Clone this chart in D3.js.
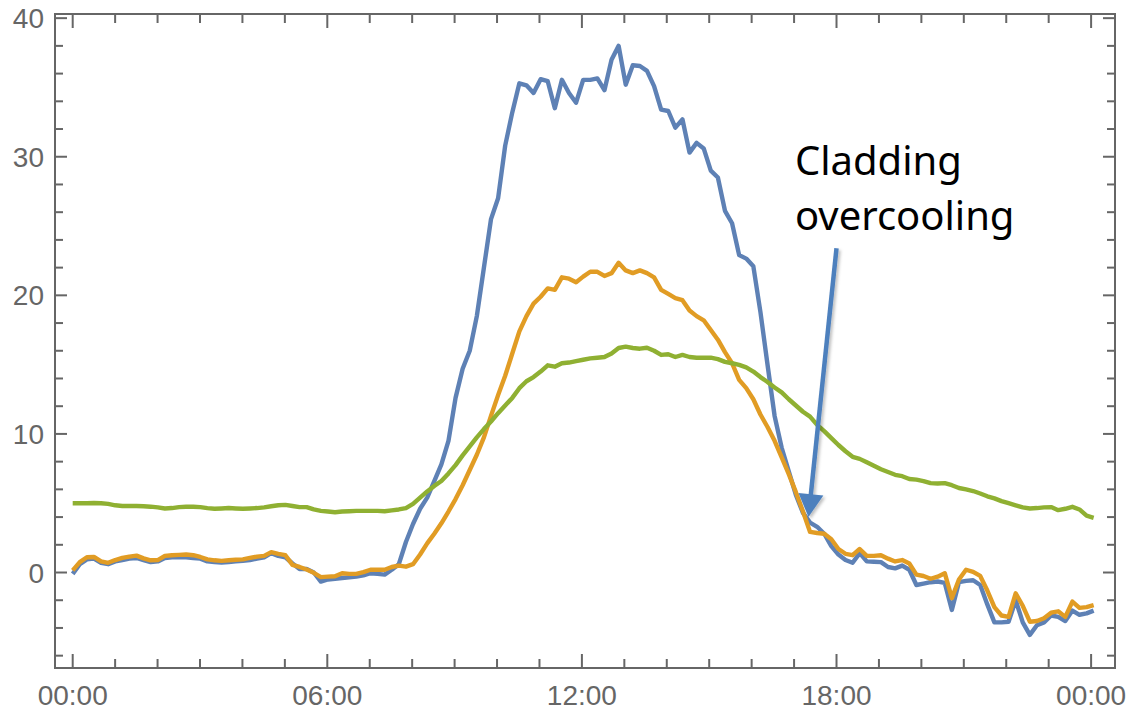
<!DOCTYPE html>
<html>
<head>
<meta charset="utf-8">
<script src="https://cdn.jsdelivr.net/npm/d3@7"></script>
<style>
  html, body { margin: 0; padding: 0; background: #fff; }
  svg { display: block; }
</style>
</head>
<body>
<div id="chart"></div>
<script>
// readings every ~10 min, from 00:00 to just past midnight
let sampleCount = 145;
let lastSampleHour = 24.06;

let blueValues = [
  -0.1, 0.6, 0.95, 1.0, 0.7, 0.6, 0.8, 0.9, 1.0, 1.05,
  0.9, 0.75, 0.8, 1.05, 1.1, 1.1, 1.1, 1.05, 1.0, 0.8,
  0.75, 0.72, 0.75, 0.8, 0.85, 0.9, 1.0, 1.1, 1.4, 1.2,
  1.1, 0.65, 0.25, 0.25, 0.0, -0.65, -0.5, -0.45, -0.4, -0.35,
  -0.3, -0.2, -0.05, -0.1, -0.15, 0.2, 0.6, 2.2, 3.5, 4.6,
  5.4, 6.6, 7.8, 9.5, 12.6, 14.7, 16.0, 18.5, 22.0, 25.5,
  27.0, 30.8, 33.2, 35.3, 35.15, 34.6, 35.6, 35.45, 33.5, 35.55,
  34.6, 33.9, 35.55, 35.55, 35.65, 34.8, 37.0, 38.0, 35.2, 36.6,
  36.55, 36.2, 35.1, 33.4, 33.3, 32.1, 32.7, 30.3, 31.0, 30.6,
  29.0, 28.5, 26.1, 25.2, 22.9, 22.65, 22.1, 18.8, 15.0, 11.3,
  9.0, 7.3, 5.6, 4.3, 3.6, 3.3, 2.8, 1.9, 1.3, 0.9,
  0.7, 1.4, 0.8, 0.78, 0.75, 0.4, 0.3, 0.5, 0.2, -0.9,
  -0.8, -0.7, -0.65, -0.75, -2.7, -0.7, -0.6, -0.56, -0.9, -2.3,
  -3.6, -3.6, -3.55, -2.0, -3.6, -4.5, -3.8, -3.6, -3.1, -3.2,
  -3.5, -2.75, -3.05, -2.95, -2.75
];

let orangeValues = [
  0.15, 0.75, 1.1, 1.12, 0.8, 0.7, 0.9, 1.05, 1.15, 1.22,
  1.02, 0.88, 0.9, 1.2, 1.25, 1.27, 1.3, 1.25, 1.12, 0.95,
  0.88, 0.84, 0.88, 0.92, 0.95, 1.05, 1.15, 1.2, 1.47, 1.35,
  1.25, 0.55, 0.4, 0.22, -0.02, -0.33, -0.3, -0.27, -0.05, -0.1,
  -0.1, 0.03, 0.2, 0.2, 0.2, 0.4, 0.5, 0.42, 0.6, 1.3,
  2.1, 2.8, 3.55, 4.4, 5.3, 6.3, 7.4, 8.5, 9.75, 11.3,
  12.8, 14.2, 15.8, 17.4, 18.5, 19.4, 19.9, 20.5, 20.4, 21.3,
  21.2, 20.95, 21.35, 21.7, 21.7, 21.4, 21.6, 22.35, 21.8, 21.6,
  21.8, 21.6, 21.3, 20.4, 20.1, 19.8, 19.65, 18.9, 18.5, 18.2,
  17.5, 16.8, 15.9, 15.1, 13.9, 13.3, 12.5, 11.4, 10.5, 9.5,
  8.3, 7.1, 5.8, 4.4, 2.93, 2.85, 2.8, 2.4, 1.7, 1.35,
  1.25, 1.7, 1.2, 1.2, 1.25, 1.0, 0.8, 0.9, 0.65, -0.15,
  -0.25, -0.45, -0.3, -0.05, -1.85, -0.5, 0.2, 0.05, -0.25, -1.3,
  -2.5, -3.1, -3.2, -1.5, -2.4, -3.55, -3.5, -3.3, -2.9, -2.8,
  -3.2, -2.1, -2.55, -2.5, -2.35
];

let greenValues = [
  5.0, 5.0, 5.0, 5.02, 5.0, 4.95, 4.85, 4.8, 4.8, 4.8,
  4.78, 4.75, 4.7, 4.62, 4.65, 4.72, 4.75, 4.75, 4.72, 4.65,
  4.6, 4.62, 4.65, 4.62, 4.6, 4.62, 4.65, 4.7, 4.78, 4.85,
  4.88, 4.8, 4.72, 4.72, 4.55, 4.45, 4.4, 4.35, 4.4, 4.42,
  4.45, 4.45, 4.45, 4.45, 4.42, 4.48, 4.55, 4.65, 4.95, 5.4,
  5.85, 6.25, 6.6, 7.15, 7.75, 8.45, 9.1, 9.75, 10.35, 10.9,
  11.5, 12.05, 12.6, 13.3, 13.8, 14.1, 14.5, 14.95, 14.85, 15.1,
  15.15, 15.25, 15.35, 15.45, 15.5, 15.55, 15.8, 16.2, 16.3, 16.2,
  16.15, 16.22, 16.0, 15.7, 15.75, 15.55, 15.7, 15.55, 15.5, 15.5,
  15.5, 15.4, 15.2, 15.1, 14.98, 14.8, 14.5, 14.1, 13.75, 13.35,
  13.0, 12.5, 12.05, 11.6, 11.25, 10.65, 10.2, 9.7, 9.2, 8.75,
  8.35, 8.2, 7.95, 7.7, 7.45, 7.25, 7.05, 6.95, 6.75, 6.7,
  6.6, 6.45, 6.42, 6.45, 6.3, 6.1, 6.0, 5.88, 5.7, 5.5,
  5.35, 5.15, 5.0, 4.85, 4.7, 4.62, 4.65, 4.7, 4.72, 4.5,
  4.6, 4.74, 4.55, 4.1, 3.95
];

let seriesColors = ['#5e81b5', '#e19c24', '#8fb032'];

let xTickHours = [0, 6, 12, 18, 24];
let yTickValues = [0, 10, 20, 30, 40];

// annotation arrow, in data units (hours, value)
let arrowFrom = [18.0, 23.4];
let arrowTo = [17.34, 4.0];
let noteLines = ['Cladding', 'overcooling'];
let noteAt = [17.02, 28.7];

let width = 1132;
let height = 712;
let frame = {left: 55, right: 1115, top: 14, bottom: 668};

let svg = d3.select('#chart').append('svg')
    .attr('width', width)
    .attr('height', height)
    .style('background-color', 'white');

let x = d3.scaleLinear().domain([-0.417, 24.563]).range([frame.left, frame.right]);
let y = d3.scaleLinear().domain([-6.89, 40.3]).range([frame.bottom, frame.top]);

let hours = d3.range(sampleCount).map((i) => i * lastSampleHour / (sampleCount - 1));

let frameColor = '#666666';

// frame ticks: major + minor, all four sides, pointing inward
let xMinor = d3.range(0, 25, 1).filter((h) => h % 6 !== 0);
let yMinor = d3.range(-6, 41, 2).filter((v) => v % 10 !== 0);

let tickGroup = svg.append('g').attr('stroke', frameColor).attr('stroke-width', 2);

function drawXTicks(list, len) {
  list.forEach((h) => {
    tickGroup.append('line')
        .attr('x1', x(h)).attr('x2', x(h))
        .attr('y1', frame.bottom).attr('y2', frame.bottom - len);
    tickGroup.append('line')
        .attr('x1', x(h)).attr('x2', x(h))
        .attr('y1', frame.top).attr('y2', frame.top + len);
  });
}
function drawYTicks(list, len) {
  list.forEach((v) => {
    tickGroup.append('line')
        .attr('x1', frame.left).attr('x2', frame.left + len)
        .attr('y1', y(v)).attr('y2', y(v));
    tickGroup.append('line')
        .attr('x1', frame.right).attr('x2', frame.right - len)
        .attr('y1', y(v)).attr('y2', y(v));
  });
}
drawXTicks(xTickHours, 14);
drawXTicks(xMinor, 9);
drawYTicks(yTickValues, 12);
drawYTicks(yMinor, 8);

// series lines
let line = d3.line()
    .x((d) => x(d[0]))
    .y((d) => y(d[1]));

svg.append('clipPath').attr('id', 'plot-clip')
    .append('rect')
    .attr('x', frame.left).attr('y', frame.top)
    .attr('width', frame.right - frame.left).attr('height', frame.bottom - frame.top);

[blueValues, orangeValues, greenValues].forEach((values, i) => {
  svg.append('path')
      .datum(values.map((v, j) => [hours[j], v]))
      .attr('clip-path', 'url(#plot-clip)')
      .attr('fill', 'none')
      .attr('stroke', seriesColors[i])
      .attr('stroke-width', 4.4)
      .attr('stroke-linejoin', 'round')
      .attr('stroke-linecap', 'butt')
      .attr('d', line);
});

// frame box
svg.append('rect')
    .attr('x', frame.left).attr('y', frame.top)
    .attr('width', frame.right - frame.left)
    .attr('height', frame.bottom - frame.top)
    .attr('fill', 'none')
    .attr('stroke', frameColor)
    .attr('stroke-width', 2);

// tick labels
let labelFont = '"Liberation Sans", Arial, sans-serif';
svg.append('g').selectAll('text')
    .data(xTickHours)
    .join('text')
    .attr('x', (h) => x(h))
    .attr('y', 705)
    .attr('text-anchor', 'middle')
    .attr('font-family', labelFont)
    .attr('font-size', 28)
    .attr('fill', frameColor)
    .text((h) => String(h % 24).padStart(2, '0') + ':00');

svg.append('g').selectAll('text')
    .data(yTickValues)
    .join('text')
    .attr('x', 44)
    .attr('y', (v) => y(v))
    .attr('dy', '0.36em')
    .attr('text-anchor', 'end')
    .attr('font-family', labelFont)
    .attr('font-size', 28)
    .attr('fill', frameColor)
    .text((v) => v);

// annotation
let arrowColor = '#4e80bd';
let defs = svg.append('defs');
defs.append('filter').attr('id', 'soft-shadow')
    .attr('x', '-50%').attr('y', '-10%').attr('width', '200%').attr('height', '120%')
    .append('feDropShadow')
    .attr('dx', 2).attr('dy', 2)
    .attr('stdDeviation', 1.5)
    .attr('flood-color', '#000')
    .attr('flood-opacity', 0.25);

let x0 = x(arrowFrom[0]), y0 = y(arrowFrom[1]);
let x1 = x(arrowTo[0]), y1 = y(arrowTo[1]);
let len = Math.hypot(x1 - x0, y1 - y0);
let ux = (x1 - x0) / len, uy = (y1 - y0) / len;
let headLen = 23, headHalf = 12.5;
let bx = x1 - ux * headLen, by = y1 - uy * headLen;

let arrow = svg.append('g').attr('filter', 'url(#soft-shadow)');
arrow.append('line')
    .attr('x1', x0).attr('y1', y0)
    .attr('x2', bx + ux * 2).attr('y2', by + uy * 2)
    .attr('stroke', arrowColor)
    .attr('stroke-width', 4.5);
arrow.append('path')
    .attr('d', `M${x1},${y1}L${bx - uy * headHalf},${by + ux * headHalf}` +
        `L${bx + uy * headHalf},${by - ux * headHalf}Z`)
    .attr('fill', arrowColor);

let note = svg.append('text')
    .attr('x', x(noteAt[0]))
    .attr('y', y(noteAt[1]))
    .attr('font-family', '"Noto Sans", "Open Sans", sans-serif')
    .attr('font-size', 40)
    .attr('fill', '#000');
note.selectAll('tspan')
    .data(noteLines)
    .join('tspan')
    .attr('x', x(noteAt[0]))
    .attr('dy', (d, i) => i === 0 ? 0 : 55)
    .text((d) => d);
</script>
</body>
</html>
